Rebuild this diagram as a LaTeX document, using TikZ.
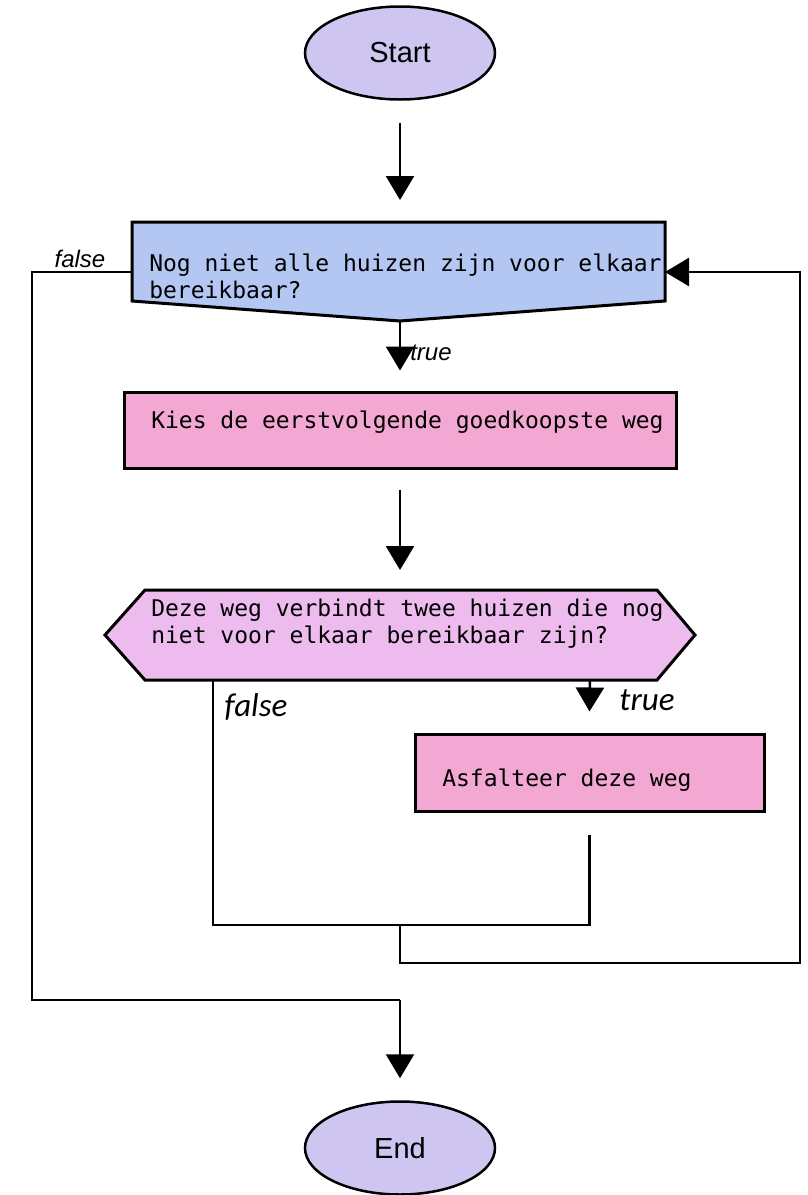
\documentclass[tikz,border=0pt]{standalone}
\usepackage{fontspec}
\setmainfont{Liberation Sans}
\setmonofont{DejaVu Sans Mono}
\newfontfamily\branchfont{Carlito}
\usetikzlibrary{arrows.meta,positioning,calc,shapes.geometric}

\definecolor{termfill}{HTML}{CEC6F0}
\definecolor{loopfill}{HTML}{B4C7F2}
\definecolor{actfill}{HTML}{F2A8D2}
\definecolor{condfill}{HTML}{EEBBEE}

\begin{document}
\begin{tikzpicture}[x=1pt,y=-1pt,line width=2.5pt,
  termnode/.style={ellipse,draw,line width=2.5pt,fill=termfill,minimum width=190pt,minimum height=93pt,
    inner sep=0pt,font=\fontsize{29}{34}\selectfont},
  actbox/.style={draw,line width=3pt,fill=actfill,inner sep=0pt},
  shapeline/.style={draw,line width=3pt},
  codetext/.style={anchor=west,inner sep=0pt,align=left,font=\ttfamily\fontsize{23}{27}\selectfont},
  smalllabel/.style={inner sep=0pt,font=\itshape\fontsize{24}{28}\selectfont},
  biglabel/.style={inner sep=0pt,font=\branchfont\itshape\fontsize{33}{38}\selectfont},
  flowarrow/.style={-{Triangle[width=28pt,length=24pt]}}]
  \useasboundingbox (0,0) rectangle (808,1195);

  % begin / end
  \node[termnode] (start) at (400,53) {Start};
  \node[termnode] (end) at (400,1148) {End};

  % while loop header
  \coordinate (w-nw) at (132,222);
  \coordinate (w-ne) at (665,222);
  \coordinate (w-se) at (665,301);
  \coordinate (w-s)  at (400,321);
  \coordinate (w-sw) at (132,301);
  \coordinate (w-w)  at (132,272);
  \coordinate (w-e)  at (665,272);
  \filldraw[shapeline,fill=loopfill] (w-nw) -- (w-ne) -- (w-se) -- (w-s) -- (w-sw) -- cycle;
  \node[codetext] (whiletxt) at (148,276.5) {Nog niet alle huizen zijn voor elkaar\\bereikbaar?};

  % loop body
  \node[actbox,minimum width=552pt,minimum height=76pt] (kies) at (400,430) {};
  \node[codetext] (kiestxt) at (150,422) {Kies de eerstvolgende goedkoopste weg};

  \coordinate (c-w)  at (105,635);
  \coordinate (c-nw) at (145,590);
  \coordinate (c-ne) at (657,590);
  \coordinate (c-e)  at (695,635);
  \coordinate (c-se) at (657,680);
  \coordinate (c-sw) at (145,680);
  \coordinate (c-n)  at (400,590);
  \coordinate (c-f)  at (213,680);
  \coordinate (c-t)  at (590,680);
  \filldraw[shapeline,fill=condfill] (c-w) -- (c-nw) -- (c-ne) -- (c-e) -- (c-se) -- (c-sw) -- cycle;
  \node[codetext] (condtxt) at (150,623.5) {Deze weg verbindt twee huizen die nog\\niet voor elkaar bereikbaar zijn?};

  \node[actbox,minimum width=349pt,minimum height=77pt] (asf) at (589.5,772.5) {};
  \node[codetext] (asftxt) at (441,780) {Asfalteer deze weg};

  % junctions
  \coordinate (inner) at (400,925);
  \coordinate (outer) at (800,963);
  \coordinate (lft)   at (32,1000);
  \coordinate (merge) at (400,1000);

  % connectors
  \draw[flowarrow] ([yshift=-22pt]start.south) -- ([yshift=22pt]w-nw -| start.south);
  \draw[flowarrow] (w-s) -- ([yshift=20pt]kies.north);
  \draw[flowarrow] ([yshift=-20pt]kies.south) -- ([yshift=20pt]c-n);
  \draw[flowarrow] (c-t) -- ([yshift=21pt]asf.north);
  \draw (c-f) |- (inner) -| ([yshift=-22pt]asf.south);
  \draw[flowarrow] (inner) |- (outer) |- (w-e);
  \draw (w-w) -| (lft) -- (merge);
  \draw[flowarrow] (merge) -- ([yshift=22pt]end.north);

  % branch labels
  \node[smalllabel] (wfalse) at (80,259) {false};
  \node[smalllabel,anchor=west] (wtrue) at (409,353) {true};
  \node[biglabel] (cfalse) at (256,707) {false};
  \node[biglabel] (ctrue) at (647,700) {true};
\end{tikzpicture}
\end{document}
